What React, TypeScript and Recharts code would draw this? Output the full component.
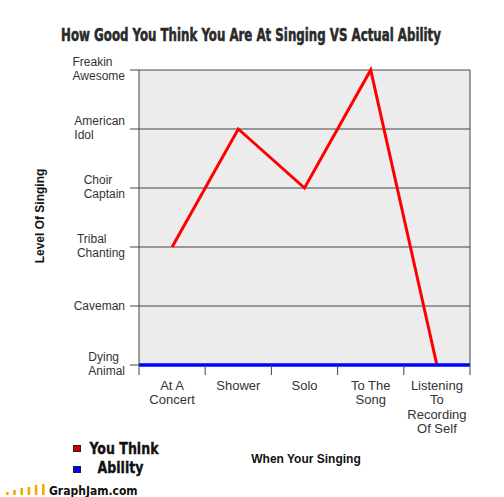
import { LineChart, Line, XAxis, YAxis, CartesianGrid } from "recharts";

// When your singing
const categories = ["At A Concert", "Shower", "Solo", "To The Song", "Listening To Recording Of Self"];
const categoryLines = [["At A", "Concert"], ["Shower"], ["Solo"], ["To The", "Song"], ["Listening", "To", "Recording", "Of Self"]];

// Level of singing (0 = Dying Animal ... 5 = Freakin Awesome)
const youThink = [2, 4, 3, 5, 0];
const ability = [0, 0, 0, 0, 0];
const levelTicks = [0, 1, 2, 3, 4, 5];
const levelLabels = [
  ["Dying", "Animal"],
  ["Caveman"],
  ["Tribal", "Chanting"],
  ["Choir", "Captain"],
  ["American", "Idol"],
  ["Freakin", "Awesome"],
];

const data = categories.map((cat, i) => ({ cat, think: youThink[i], ability: ability[i] }));

const W = 504;
const H = 497;
const LEFT = 139;
const RIGHT = 34;
const PLOT_W = W - LEFT - RIGHT;
const BAND = PLOT_W / categories.length;
const LABEL_FONT = "Liberation Sans, Arial, sans-serif";
const COND_FONT = "DejaVu Sans Condensed, DejaVu Sans, sans-serif";
const AXIS_COLOR = "#444";
const TITLE = "How Good You Think You Are At Singing VS Actual Ability";

const ctx = typeof document !== "undefined" ? document.createElement("canvas").getContext("2d") : null;
const textWidth = (s: string, font: string) => {
  if (!ctx) return s.length * 6;
  ctx.font = font;
  return ctx.measureText(s).width;
};

// pick a font size so the text spans the wanted width
const fitSize = (s: string, target: number, base: number) => {
  const w = textWidth(s, `bold ${base}px ${COND_FONT}`);
  return w > 0 ? Math.min(base, (base * target) / w) : base;
};

const YTick = (props: any) => {
  const { x, y, payload } = props;
  const lines = levelLabels[payload.value] || [];
  const widest = Math.max(...lines.map((l) => textWidth(l, `12px ${LABEL_FONT}`)));
  const left = x - widest;
  const first = lines.length === 1 ? y + 4 : y - 4;
  return (
    <g>
      {lines.map((l, i) => (
        <text key={i} x={left} y={first + i * 14} fontSize={12} fontFamily={LABEL_FONT} fill="#333" textAnchor="start">
          {l}
        </text>
      ))}
    </g>
  );
};

const XTick = (props: any) => {
  const { x, y, index } = props;
  const lines = categoryLines[index] || [];
  const last = index === categories.length - 1;
  return (
    <g>
      <line x1={x - BAND / 2} x2={x - BAND / 2} y1={y} y2={y + 10} stroke={AXIS_COLOR} />
      {last && <line x1={x + BAND / 2} x2={x + BAND / 2} y1={y} y2={y + 10} stroke={AXIS_COLOR} />}
      {lines.map((l, i) => (
        <text key={i} x={x} y={y + 25 + i * 14.3} fontSize={13} fontFamily={LABEL_FONT} fill="#333" textAnchor="middle">
          {l}
        </text>
      ))}
    </g>
  );
};

const logoBars = [3, 5, 7, 8, 10, 11];

export default function App() {
  const titleSize = fitSize(TITLE, 380, 18);
  return (
    <div style={{ position: "absolute", left: 0, top: 0, width: W, height: H, background: "#fff" }}>
      <LineChart width={W} height={H} data={data} margin={{ top: 70, right: 0, bottom: 52, left: 0 }}>
        <CartesianGrid xAxisId="cat" yAxisId="left" vertical={false} stroke={AXIS_COLOR} fill="#ececec" fillOpacity={1} />
        <XAxis
          xAxisId="cat"
          dataKey="cat"
          scale="band"
          height={80}
          axisLine={false}
          tickLine={false}
          tickSize={0}
          tickMargin={0}
          interval={0}
          tick={<XTick />}
        />
        <XAxis xAxisId="edge" dataKey="cat" scale="point" hide />
        <YAxis
          yAxisId="left"
          width={LEFT}
          domain={[0, 5]}
          ticks={levelTicks}
          interval={0}
          axisLine={{ stroke: AXIS_COLOR }}
          tickLine={{ stroke: AXIS_COLOR }}
          tickSize={9}
          tickMargin={5}
          tick={<YTick />}
        />
        <YAxis
          yAxisId="right"
          orientation="right"
          width={RIGHT}
          domain={[0, 5]}
          tick={false}
          tickLine={false}
          axisLine={{ stroke: AXIS_COLOR }}
        />
        <Line
          xAxisId="cat"
          yAxisId="left"
          dataKey="think"
          name="You Think"
          stroke="#ff0000"
          strokeWidth={3}
          dot={false}
          isAnimationActive={false}
        />
        <Line
          xAxisId="edge"
          yAxisId="left"
          dataKey="ability"
          name="Ability"
          stroke="#0000ff"
          strokeWidth={3.5}
          dot={false}
          isAnimationActive={false}
        />
      </LineChart>

      {/* titles, legend and footer drawn over the chart */}
      <svg width={W} height={H} style={{ position: "absolute", left: 0, top: 0, pointerEvents: "none" }}>
        <g transform="translate(251,41) scale(1,1.3)">
          <text x={0} y={0} textAnchor="middle" fontFamily={COND_FONT} fontWeight="bold" fontSize={titleSize} fill="#2a2a2a" stroke="#2a2a2a" strokeWidth={0.4}>
            {TITLE}
          </text>
        </g>
        <text
          transform="translate(44,216) rotate(-90)"
          textAnchor="middle"
          fontFamily={LABEL_FONT}
          fontWeight="bold"
          fontSize={12}
          fill="#111"
        >
          Level Of Singing
        </text>
        <text x={306} y={463} textAnchor="middle" fontFamily={LABEL_FONT} fontWeight="bold" fontSize={12} fill="#111">
          When Your Singing
        </text>

        <rect x={73.5} y={445.5} width={7} height={6} fill="#d00000" stroke="#222" />
        <g transform="translate(124,454) scale(1,1.15)">
          <text x={0} y={0} textAnchor="middle" fontFamily={COND_FONT} fontWeight="bold" fontSize={14} fill="#111" stroke="#111" strokeWidth={0.3}>
            You Think
          </text>
        </g>
        <rect x={73.5} y={466.5} width={7} height={6} fill="#0000ff" stroke="#222" />
        <g transform="translate(120.5,473) scale(1,1.15)">
          <text x={0} y={0} textAnchor="middle" fontFamily={COND_FONT} fontWeight="bold" fontSize={14} fill="#111" stroke="#111" strokeWidth={0.3}>
            Ability
          </text>
        </g>

        {logoBars.map((h, i) => (
          <rect key={i} x={6 + i * 7.2} y={495 - h} width={2.6} height={h} fill="#f5a800" />
        ))}
        <text x={49} y={495} fontFamily={COND_FONT} fontWeight="bold" fontSize={12} fill="#111">
          GraphJam.com
        </text>
      </svg>
    </div>
  );
}
